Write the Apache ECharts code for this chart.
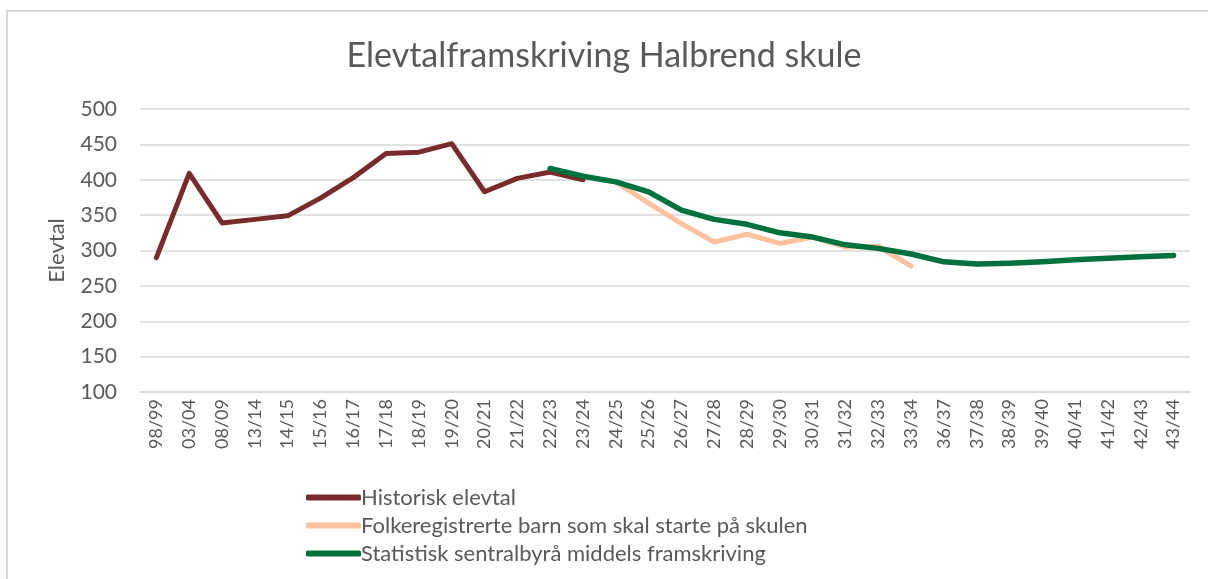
<!DOCTYPE html>
<html>
<head>
<meta charset="utf-8">
<script src="https://cdn.jsdelivr.net/npm/echarts@6/dist/echarts.min.js"></script>
<style>
  html, body { margin: 0; padding: 0; background: #fff; }
  #main { width: 1208px; height: 579px; }
</style>
</head>
<body>
<div id="main"></div>
<script>
// skuleår
var years = ['98/99', '03/04', '08/09', '13/14', '14/15', '15/16', '16/17', '17/18', '18/19', '19/20',
	'20/21', '21/22', '22/23', '23/24', '24/25', '25/26', '26/27', '27/28', '28/29', '29/30',
	'30/31', '31/32', '32/33', '33/34', '36/37', '37/38', '38/39', '39/40', '40/41', '41/42',
	'42/43', '43/44'];

var historisk = [290, 409, 339, 344, 349, 374, 403, 437, 439, 451,
	383, 402, 411, 400, null, null, null, null, null, null,
	null, null, null, null, null, null, null, null, null, null,
	null, null];

var folkeregister = [null, null, null, null, null, null, null, null, null, null,
	null, null, null, null, 397, 367, 338, 312, 323, 310,
	319, 305, 306, 278, null, null, null, null, null, null,
	null, null];

var ssb = [null, null, null, null, null, null, null, null, null, null,
	null, null, 416, 405, 397, 383, 357, 344, 337, 325,
	319, 308, 303, 295, 284, 281, 282, 284, 287, 289,
	291, 293];

var textColor = '#595959';
var fontName = 'Lato';

var myChart = echarts.init(document.getElementById('main'));
var option = {
	backgroundColor: '#fff',
	textStyle: { fontFamily: fontName },
	// ramme rundt diagrammet
	graphic: [{
		type: 'rect',
		shape: { x: 7, y: 11, width: 1220, height: 600 },
		style: { fill: 'none', stroke: '#d9d9d9', lineWidth: 2 },
		silent: true
	}],
	title: {
		text: 'Elevtalframskriving Halbrend skule',
		left: 'center',
		top: 34,
		textStyle: { fontFamily: fontName, fontSize: 34, fontWeight: 'normal', color: textColor }
	},
	legend: {
		orient: 'vertical',
		left: 301,
		top: 480,
		itemWidth: 55,
		itemHeight: 6,
		itemGap: 3,
		icon: 'roundRect',
		textStyle: { fontFamily: fontName, fontSize: 22, color: textColor, lineHeight: 25, padding: [0, 0, 0, -5] },
		data: ['Historisk elevtal', 'Folkeregistrerte barn som skal starte på skulen', 'Statistisk sentralbyrå middels framskriving']
	},
	grid: { left: 140, right: 18, top: 109, bottom: 187, containLabel: false },
	xAxis: {
		type: 'category',
		data: years,
		boundaryGap: true,
		axisLine: { lineStyle: { color: '#d9d9d9', width: 1.5 } },
		axisTick: { show: false },
		axisLabel: { rotate: 90, margin: 7, fontFamily: fontName, fontSize: 18, color: textColor, interval: 0 }
	},
	yAxis: {
		type: 'value',
		min: 100,
		max: 500,
		interval: 50,
		name: 'Elevtal',
		nameLocation: 'middle',
		nameGap: 72,
		nameTextStyle: { fontFamily: fontName, fontSize: 22, color: textColor },
		axisLine: { show: false },
		axisTick: { show: false },
		splitLine: { lineStyle: { color: '#d9d9d9', width: 1.5 } },
		axisLabel: { margin: 23, fontFamily: fontName, fontSize: 21, color: textColor }
	},
	series: [
		{
			name: 'Historisk elevtal',
			type: 'line',
			data: historisk,
			symbol: 'none',
			lineStyle: { color: '#772B2B', width: 5, cap: 'round', join: 'round' },
			itemStyle: { color: '#772B2B' },
			z: 2
		},
		{
			name: 'Folkeregistrerte barn som skal starte på skulen',
			type: 'line',
			data: folkeregister,
			symbol: 'none',
			lineStyle: { color: '#FBC29D', width: 5, cap: 'round', join: 'round' },
			itemStyle: { color: '#FBC29D' },
			z: 3
		},
		{
			name: 'Statistisk sentralbyrå middels framskriving',
			type: 'line',
			data: ssb,
			symbol: 'none',
			lineStyle: { color: '#00703C', width: 5.5, cap: 'round', join: 'round' },
			itemStyle: { color: '#00703C' },
			z: 4
		}
	]
};
myChart.setOption(option);
</script>
</body>
</html>
